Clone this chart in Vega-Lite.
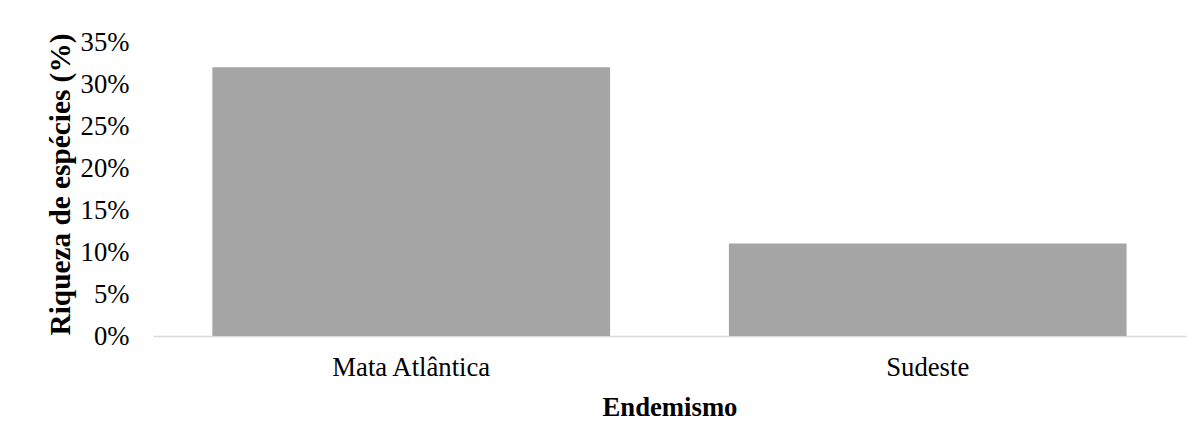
{
  "$schema": "https://vega.github.io/schema/vega-lite/v6.json",
  "autosize": {"type": "none"},
  "width": 1033,
  "height": 294,
  "padding": {"left": 153, "top": 42, "right": 17, "bottom": 112},
  "background": "white",
  "config": {
    "view": {"stroke": null},
    "font": "Liberation Serif",
    "axis": {"labelFont": "Liberation Serif", "titleFont": "Liberation Serif", "labelColor": "#000000", "titleColor": "#000000"}
  },
  "data": {
    "values": [
      {"endemismo": "Mata Atlântica", "riqueza": 0.32},
      {"endemismo": "Sudeste", "riqueza": 0.11}
    ]
  },
  "mark": {"type": "bar", "color": "#a5a5a5"},
  "encoding": {
    "x": {
      "field": "endemismo",
      "type": "nominal",
      "sort": null,
      "scale": {"paddingInner": 0.23, "paddingOuter": 0.115},
      "axis": {
        "title": "Endemismo",
        "titleFontSize": 26.7,
        "titleFontWeight": "bold",
        "titlePadding": 14,
        "labelFontSize": 26.7,
        "labelAngle": 0,
        "labelPadding": 18,
        "ticks": false,
        "tickSize": 0,
        "domainColor": "#d9d9d9",
        "domainWidth": 1.5
      }
    },
    "y": {
      "field": "riqueza",
      "type": "quantitative",
      "scale": {"domain": [0, 0.35]},
      "axis": {
        "title": "Riqueza de espécies (%)",
        "titleFontSize": 29.3,
        "titleFontWeight": "bold",
        "titleAngle": 270,
        "titleBaseline": "middle",
        "titleX": -93,
        "titleY": 142,
        "labelFontSize": 26.7,
        "labelPadding": 24,
        "ticks": false,
        "tickSize": 0,
        "domain": false,
        "grid": false,
        "format": ".0%",
        "values": [0, 0.05, 0.1, 0.15, 0.2, 0.25, 0.3, 0.35]
      }
    }
  }
}
